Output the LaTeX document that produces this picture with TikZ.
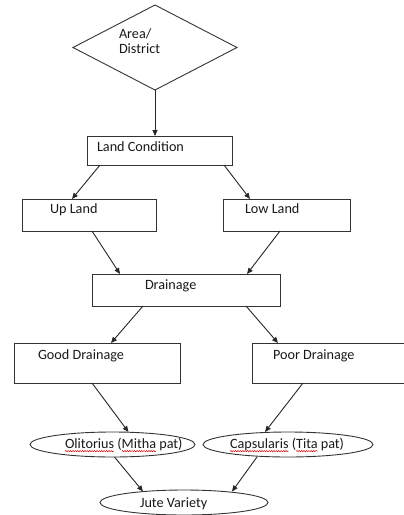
\documentclass[tikz,border=0pt]{standalone}
\usepackage{fontspec}
\setmainfont{Carlito}
\usetikzlibrary{shapes.geometric,arrows.meta,decorations.pathmorphing}
\begin{document}
\begin{tikzpicture}[x=1pt,y=-1pt,
  line width=0.9pt,
  every node/.style={inner sep=0pt, outer sep=0pt},
  box/.style={draw=black!80, rectangle},
  oval/.style={draw=black!80, ellipse},
  decision/.style={draw=black!80, diamond},
  caption/.style={anchor=base west, text=black!90, align=left},
  flow/.style={draw=black!85, -{Triangle[length=6pt,width=5pt]}},
  spell/.style={draw=red!80!black, line width=0.5pt, decorate,
    decoration={snake, amplitude=0.6pt, segment length=2.4pt}}
]
\fontsize{14.2}{15}\selectfont
\useasboundingbox (0,0) rectangle (404,515);
\clip (0,0) rectangle (404,515);

% shapes
\node[decision, minimum width=164pt, minimum height=85pt] (area) at (155,47.5) {};
\node[box, minimum width=145pt, minimum height=29pt] (lc)    at (159.5,150.5) {};
\node[box, minimum width=134pt, minimum height=32pt] (up)    at (89,215) {};
\node[box, minimum width=127pt, minimum height=32pt] (low)   at (286.5,215) {};
\node[box, minimum width=188pt, minimum height=32pt] (drain) at (186,290) {};
\node[box, minimum width=166pt, minimum height=40pt] (good)  at (97,363) {};
\node[box, minimum width=168pt, minimum height=40pt] (poor)  at (336,363) {};
\node[oval, minimum width=165pt, minimum height=25pt] (oli)  at (112.5,444.5) {};
\node[oval, minimum width=170pt, minimum height=25pt] (cap)  at (288,444.5) {};
\node[oval, minimum width=168pt, minimum height=25pt] (jute) at (184,502.5) {};

% texts (a two-line caption sits on the baseline of its last line)
\node[caption] (area-t)  at (119,53.3) {Area/\\District};
\node[caption] (lc-t)    at (97,151)   {Land Condition};
\node[caption] (up-t)    at (50,213)   {Up Land};
\node[caption] (low-t)   at (245,213)  {Low Land};
\node[caption] (drain-t) at (145,289)  {Drainage};
\node[caption] (good-t)  at (38,359)   {Good Drainage};
\node[caption] (poor-t)  at (273,359)  {Poor Drainage};
\node[caption] (oli-t)   at (65,448.5) {Olitorius (Mitha pat)};
\node[caption] (cap-t)   at (230,448.5) {Capsularis (Tita pat)};
\node[caption] (jute-t)  at (140,507)  {Jute Variety};

% wavy marks under the Latin names
\pgfmathsetmacro\wOli{width("Olitorius")}
\pgfmathsetmacro\wOliPre{width("Olitorius (")}
\pgfmathsetmacro\wMitha{width("Mitha")}
\pgfmathsetmacro\wCap{width("Capsularis")}
\pgfmathsetmacro\wCapPre{width("Capsularis (")}
\pgfmathsetmacro\wTita{width("Tita")}
\draw[spell] ([yshift=-2.6pt]oli-t.base west) -- ++(\wOli,0);
\draw[spell] ([yshift=-2.6pt,xshift=\wOliPre pt]oli-t.base west) -- ++(\wMitha,0);
\draw[spell] ([yshift=-2.6pt]cap-t.base west) -- ++(\wCap,0);
\draw[spell] ([yshift=-2.6pt,xshift=\wCapPre pt]cap-t.base west) -- ++(\wTita,0);

% connectors
\draw[flow] (area.south) -- (area.south |- lc.north);
\draw[flow] ([xshift=13pt]lc.south west) -- ([xshift=50pt]up.north west);
\draw[flow] ([xshift=-8pt]lc.south east) -- ([xshift=27pt]low.north west);
\draw[flow] ([xshift=70pt]up.south west) -- ([xshift=28pt]drain.north west);
\draw[flow] ([xshift=-70pt]low.south east) -- ([xshift=-33pt]drain.north east);
\draw[flow] ([xshift=51pt]drain.south west) -- ([xshift=97pt]good.north west);
\draw[flow] ([xshift=-34pt]drain.south east) -- ([xshift=26pt]poor.north west);
\draw[flow] ([xshift=78pt]good.south west) -- ([xshift=16pt]oli.north);
\draw[flow] ([xshift=51pt]poor.south west) -- ([xshift=-23pt]cap.north);
\draw[flow] ([xshift=2pt]oli.south) -- ([xshift=-41pt,yshift=-1.5pt]jute.north);
\draw[flow] ([xshift=-31pt]cap.south) -- ([xshift=48pt,yshift=-1.5pt]jute.north);
\end{tikzpicture}
\end{document}
